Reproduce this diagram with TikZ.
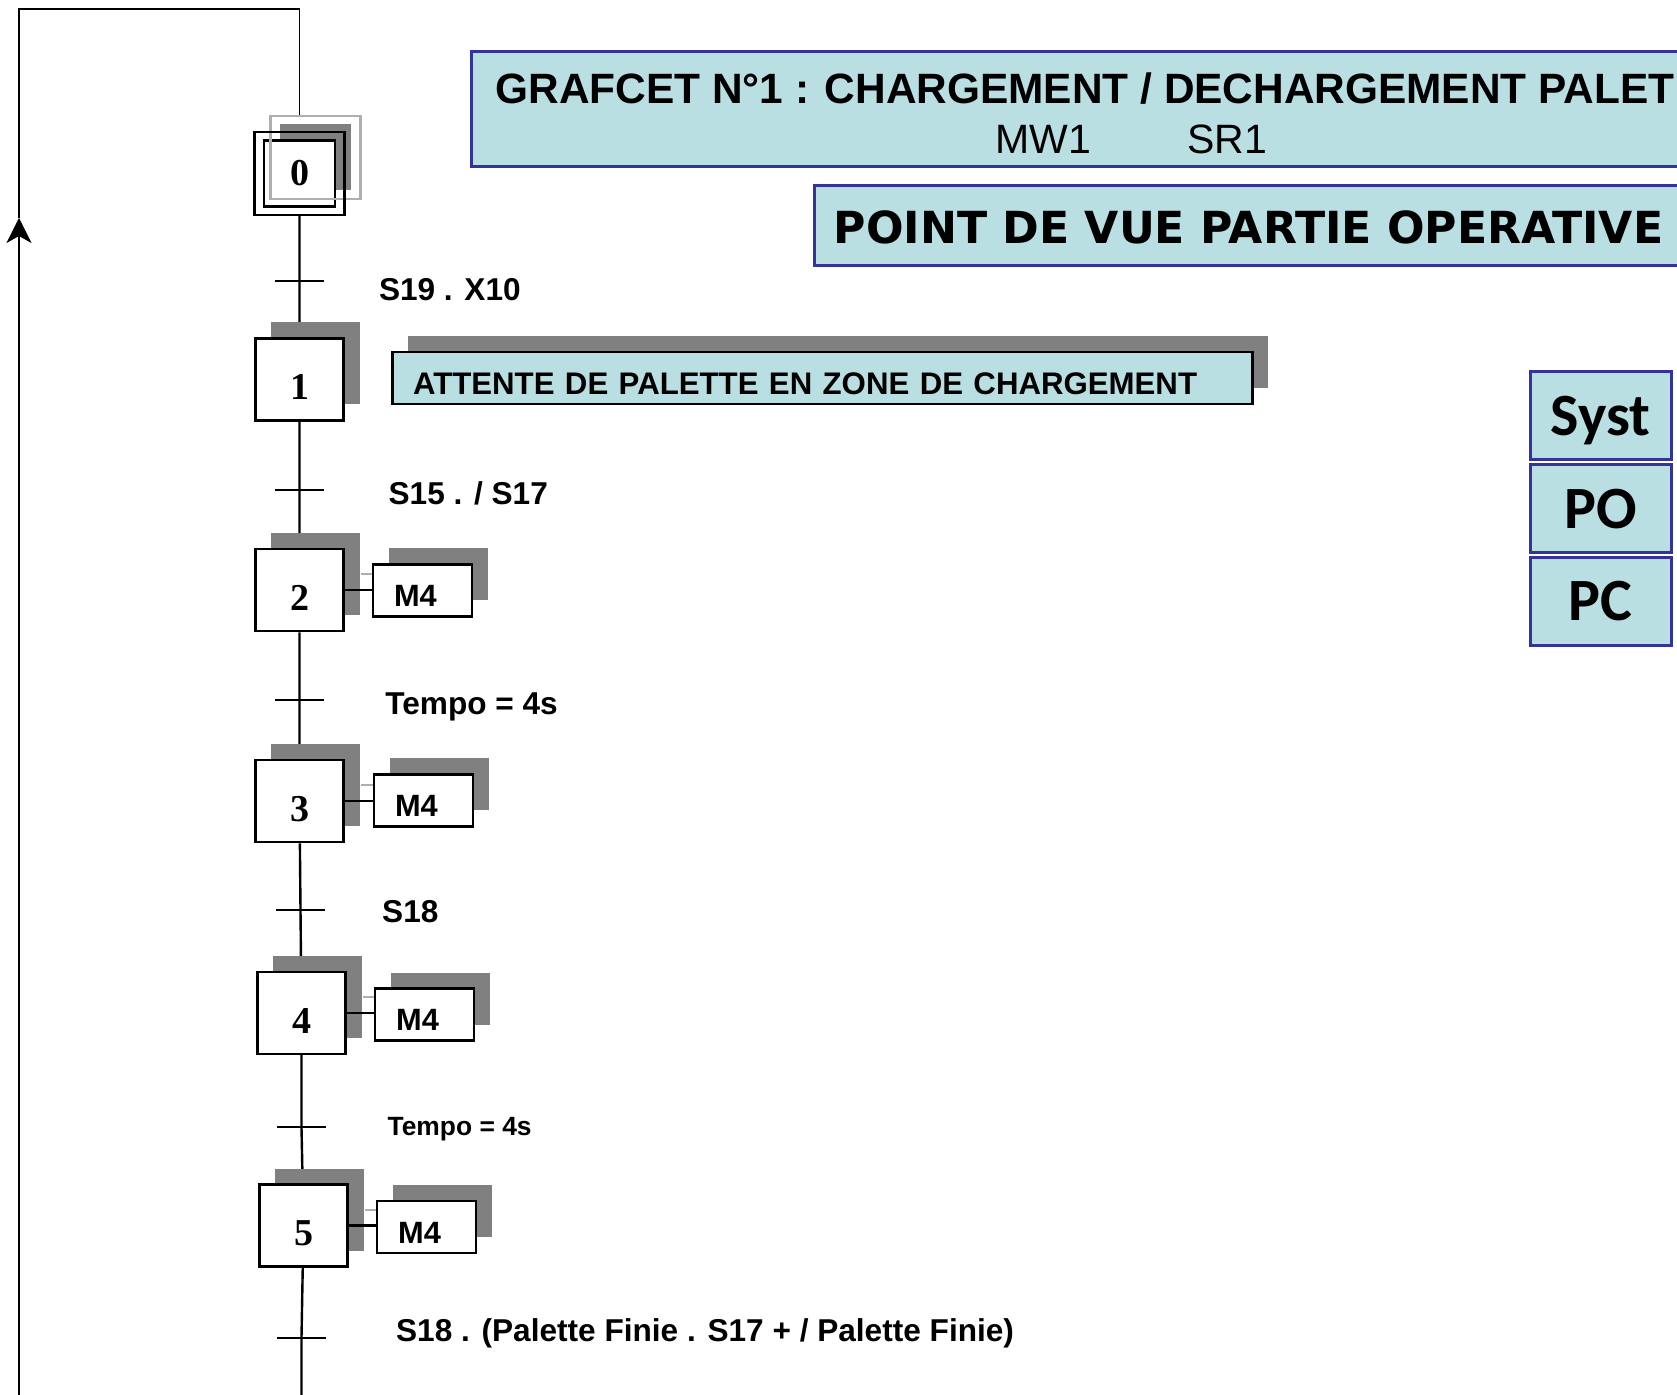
\documentclass[tikz,border=0pt]{standalone}
\usepackage{fontspec}
\setmainfont{Liberation Sans}
\newfontfamily\numfont{Liberation Serif}
\newfontfamily\viewfont{DejaVu Sans}
\newfontfamily\partfont{Carlito}
\usetikzlibrary{positioning, arrows.meta, shadows, calc, backgrounds}

\definecolor{panel}{RGB}{185,223,227}
\definecolor{panelline}{RGB}{51,51,153}
\definecolor{shade}{RGB}{128,128,128}
\definecolor{shadelight}{RGB}{175,175,175}

\begin{document}
\begin{tikzpicture}[x=0.5pt, y=-0.5pt,
  every node/.style={inner sep=0pt},
  ombre/.style={drop shadow={shadow xshift=8pt, shadow yshift=8pt, fill=shade, opacity=1}},
  etape/.style={draw, line width=1.3pt, fill=white, ombre,
    minimum width=44.25pt, minimum height=41pt, text height=20.4pt, text depth=0pt,
    font=\numfont\bfseries\fontsize{19}{19}\selectfont},
  action/.style={draw, line width=1.2pt, fill=white, ombre,
    minimum height=26pt, text width=28.5pt, inner xsep=10.5pt, align=left,
    text height=16.2pt, text depth=0pt,
    font=\bfseries\fontsize{15.4}{15.4}\selectfont},
  cadre/.style={draw=panelline, line width=1.5pt, fill=panel},
  lien/.style={line width=1.2pt},
  boucle/.style={line width=0.75pt},
  trans/.style={line width=1pt},
  recept/.style={anchor=base west, font=\bfseries\fontsize{15.8}{15.8}\selectfont}
]
  \useasboundingbox (0,0) rectangle (1677,1395);
  \clip (0,0) rectangle (1677,1395);

  % titres
  \node[cadre, anchor=north west, minimum width=630pt, minimum height=57.5pt] (titre) at (470,50) {};
  \node[anchor=base west, font=\bfseries\fontsize{21.2}{21.2}\selectfont] (titre1) at (495,103.3)
    {GRAFCET N°1 : CHARGEMENT / DECHARGEMENT PALET};
  \node[anchor=base west, font=\fontsize{20.5}{20.5}\selectfont] (mw) at (995,153.3) {MW1};
  \node[anchor=base west, font=\fontsize{20.5}{20.5}\selectfont] (sr) at (1186.7,153.3) {SR1};

  \node[cadre, anchor=north west, minimum width=460pt, minimum height=40pt] (vue) at (812.7,184.3) {};
  \node[anchor=base west, font=\viewfont\bfseries\fontsize{22.1}{22.1}\selectfont] (vuetexte)
    at (833.3,243.3) {POINT DE VUE PARTIE OPERATIVE};

  % Syst / PO / PC
  \foreach \nom/\y/\txt in {syst/416/Syst, po/509/PO, pc/601.3/PC}
    \node[cadre, minimum width=70.5pt, minimum height=44pt, text depth=0pt,
          font=\partfont\bfseries\fontsize{30}{30}\selectfont] (\nom) at (1600.5,\y) {\txt};

  % etape initiale
  \node[draw, line width=1.1pt, fill=white, ombre, minimum width=35.8pt, minimum height=33pt,
        font=\numfont\bfseries\fontsize{19}{19}\selectfont] (s0in) at (299.5,173.5) {0};
  \node[draw, line width=1.1pt, minimum width=45pt, minimum height=41.5pt,
        drop shadow={shadow xshift=8pt, shadow yshift=8pt, fill=none, draw=shadelight,
                     line width=1.1pt, opacity=1}] (s0) at (299.5,173.5) {};

  % etapes
  \foreach \n/\x/\y in {1/299.5/379.5, 2/299.5/590, 3/299.5/801, 4/301.5/1012.8, 5/303.5/1225.5}
    \node[etape] (s\n) at (\x,\y) {\n};

  % actions
  \foreach \n/\x/\y in {2/422.5/590.5, 3/423.5/800.5, 4/424.6/1014.5, 5/426.7/1227}
    \node[action] (a\n) at (\x,\y) {M4};

  \node[draw, line width=1.25pt, fill=panel, ombre, anchor=north west, minimum height=26pt,
        text width=409.2pt, inner xsep=10.4pt, align=left, text height=16.3pt, text depth=0pt,
        font=\bfseries\fontsize{15.6}{15.6}\selectfont] (attente) at (391,351)
    {ATTENTE DE PALETTE EN ZONE DE CHARGEMENT};

  \foreach \n in {2,...,5}{
    \draw[lien] (s\n.east) -- (s\n.east -| a\n.west);
    \draw[shadelight, line width=1pt] ($(s\n.east)+(16,-16)$) -- ($(s\n.east -| a\n.west)+(0,-16)$);
  }

  % transitions
  \foreach \t/\x/\y in {0/299.5/281.3, 1/299.5/489.8, 2/299.5/700.5, 3/300.5/910, 4/301.5/1127.3, 5/301.5/1337.5}{
    \coordinate (t\t) at (\x,\y);
    \draw[trans] ([xshift=-12.25pt]t\t) -- ([xshift=12.25pt]t\t);
  }
  \coordinate (bas) at (301.5,1420);
  \coordinate (coin) at (19,1420);
  \coordinate (fleche) at (19,218);
  \coordinate (haut) at (19,9);

  \begin{scope}[on background layer]
    \draw[lien] (s0) -- (t0) -- (s1) -- (t1) -- (s2) -- (t2) -- (s3) -- (t3)
      -- (s4) -- (t4) -- (s5) -- (t5) -- (bas);
    \draw[boucle, line width=1pt, -{Stealth[length=12.5pt, width=12.5pt, inset=3.5pt]}]
      (bas) -- (coin) -- (fleche);
    \draw[boucle] (fleche) -- (haut) -| ([yshift=8pt]s0.north);
  \end{scope}

  % receptivites
  \node[recept] (c0) at (378.6,301) {S19 . X10};
  \node[recept] (c1) at (388.2,504.3) {S15 . / S17};
  \node[recept] (c2) at (385,715) {Tempo = 4s};
  \node[recept] (c3) at (381.8,922.5) {S18};
  \node[recept, font=\bfseries\fontsize{13.2}{13.2}\selectfont] (c4) at (387.2,1135.6) {Tempo = 4s};
  \node[recept] (c5) at (395.7,1341.8) {S18 . (Palette Finie . S17 + / Palette Finie)};
\end{tikzpicture}
\end{document}
